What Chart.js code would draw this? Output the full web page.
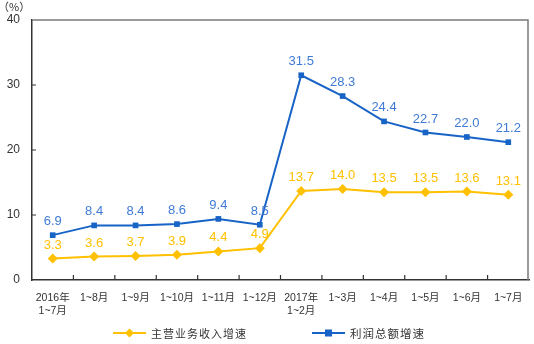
<!DOCTYPE html>
<html>
<head>
<meta charset="utf-8">
<script src="https://cdn.jsdelivr.net/npm/chart.js@4/dist/chart.umd.min.js"></script>
<style>
  html, body { margin: 0; padding: 0; background: #fff; }
  #wrap { width: 534px; height: 344px; }
</style>
</head>
<body>
<div id="wrap"><canvas id="chart" width="534" height="344"></canvas></div>
<script>
let labels = [
  ["2016年", "1~7月"], "1~8月", "1~9月", "1~10月", "1~11月", "1~12月",
  ["2017年", "1~2月"], "1~3月", "1~4月", "1~5月", "1~6月", "1~7月"
];
let revenue = [3.3, 3.6, 3.7, 3.9, 4.4, 4.9, 13.7, 14.0, 13.5, 13.5, 13.6, 13.1];
let profit = [6.9, 8.4, 8.4, 8.6, 9.4, 8.5, 31.5, 28.3, 24.4, 22.7, 22.0, 21.2];
let seriesNames = ["主营业务收入增速", "利润总额增速"];

let yellow = "#FFC000";
let blue = "#1763C6";
let blueText = "#3F7BD6";
let font = "Arial, 'Liberation Sans', 'Noto Sans CJK SC', sans-serif";
let cjk = "'Noto Sans CJK SC', sans-serif";

// frame, inner ticks, value labels, unit, legend
let decor = {
  id: "decor",
  afterDraw(chart) {
    let ctx = chart.ctx;
    let a = chart.chartArea;
    let xs = chart.scales.x;
    let ys = chart.scales.y;
    ctx.save();
    // top + right border
    ctx.strokeStyle = "#7a7a7a";
    ctx.lineWidth = 1.5;
    ctx.beginPath();
    ctx.moveTo(a.left, a.top);
    ctx.lineTo(a.right - 1, a.top);
    ctx.lineTo(a.right - 1, a.bottom);
    ctx.stroke();
    // inner ticks
    ctx.strokeStyle = "#333333";
    ctx.lineWidth = 1.2;
    ctx.beginPath();
    for (let i = 1; i < labels.length; i++) {
      let x = (xs.getPixelForValue(i - 1) + xs.getPixelForValue(i)) / 2;
      ctx.moveTo(x, a.bottom);
      ctx.lineTo(x, a.bottom - 5);
    }
    for (let v = 10; v < 40; v += 10) {
      let y = ys.getPixelForValue(v);
      ctx.moveTo(a.left, y);
      ctx.lineTo(a.left + 4, y);
    }
    ctx.stroke();
    // value labels
    ctx.font = "13px " + font;
    ctx.textAlign = "center";
    ctx.textBaseline = "bottom";
    chart.data.datasets.forEach((ds, di) => {
      let meta = chart.getDatasetMeta(di);
      ctx.fillStyle = di === 0 ? yellow : blueText;
      meta.data.forEach((pt, i) => {
        ctx.fillText(ds.data[i].toFixed(1), pt.x, pt.y - 7);
      });
    });
    // unit
    ctx.fillStyle = "#333";
    ctx.font = "11px " + cjk;
    ctx.textAlign = "left";
    ctx.textBaseline = "middle";
    ctx.fillText("（%）", -2, 7);
    // legend
    let ly = 333;
    let items = [
      { x: 113, color: yellow, style: "diamond", name: seriesNames[0], size: 11 },
      { x: 312, color: blue, style: "square", name: seriesNames[1], size: 11.5 }
    ];
    items.forEach(it => {
      ctx.fillStyle = it.color;
      ctx.fillRect(it.x, ly - 1, 33, 2);
      let cx = it.x + 16.5;
      ctx.beginPath();
      if (it.style === "diamond") {
        ctx.moveTo(cx, ly - 4.5);
        ctx.lineTo(cx + 4.5, ly);
        ctx.lineTo(cx, ly + 4.5);
        ctx.lineTo(cx - 4.5, ly);
        ctx.closePath();
      } else {
        ctx.rect(cx - 3.5, ly - 3.5, 7, 7);
      }
      ctx.fill();
      ctx.fillStyle = "#333";
      ctx.font = it.size + "px " + cjk;
      ctx.textBaseline = "middle";
      ctx.letterSpacing = "1px";
      ctx.fillText(it.name, it.x + 38, ly + 1);
    });
    ctx.restore();
  }
};

let ctx = document.getElementById("chart").getContext("2d");
let myChart = new Chart(ctx, {
  type: "line",
  data: {
    labels: labels,
    datasets: [
      {
        label: seriesNames[0],
        data: revenue,
        borderColor: yellow,
        backgroundColor: yellow,
        borderWidth: 2,
        pointStyle: "rectRot",
        pointRadius: 5,
        pointBorderWidth: 0,
        tension: 0
      },
      {
        label: seriesNames[1],
        data: profit,
        borderColor: blue,
        backgroundColor: blue,
        borderWidth: 2,
        pointStyle: "rect",
        pointRadius: 4,
        pointBorderWidth: 0,
        tension: 0
      }
    ]
  },
  options: {
    responsive: false,
    animation: false,
    layout: { padding: { left: 0, right: 1, top: 20, bottom: 0 } },
    plugins: {
      legend: { display: false },
      tooltip: { enabled: false }
    },
    scales: {
      x: {
        offset: true,
        grid: { display: false, drawTicks: false },
        border: { color: "#333", width: 1.5 },
        ticks: {
          color: "#333",
          font: { size: 10.5, family: font },
          padding: 12,
          maxRotation: 0,
          autoSkip: false
        },
        afterFit(scale) {
          scale.height = 64;
          scale.paddingLeft = 0;
          scale.paddingRight = 0;
        }
      },
      y: {
        min: 0,
        max: 40,
        grid: { display: false, drawTicks: false },
        border: { color: "#333", width: 1.5 },
        ticks: {
          stepSize: 10,
          color: "#333",
          font: { size: 12, family: font },
          padding: 12
        },
        afterFit(scale) { scale.width = 32; }
      }
    }
  },
  plugins: [decor]
});
</script>
</body>
</html>
